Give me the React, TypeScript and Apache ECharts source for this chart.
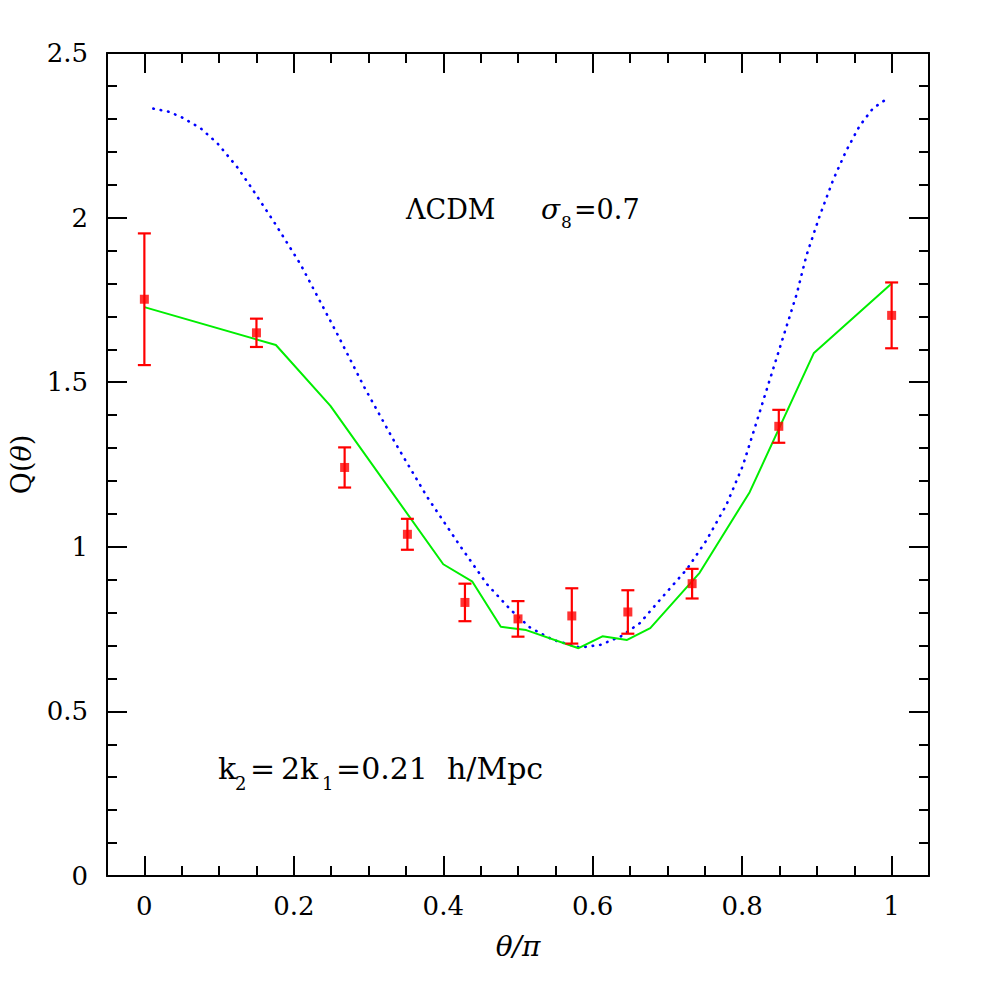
import React, { useEffect, useRef } from 'react';
import * as echarts from 'echarts';

// Measured data (red squares with error bars)
const obsTheta = [0, 0.15, 0.268, 0.352, 0.429, 0.5, 0.572, 0.647, 0.733, 0.849, 1.0];
const obsQ = [1.752, 1.65, 1.241, 1.038, 0.831, 0.781, 0.79, 0.802, 0.888, 1.366, 1.703];
const obsErr = [0.2, 0.043, 0.061, 0.047, 0.057, 0.054, 0.084, 0.066, 0.045, 0.05, 0.1];

// Blue dotted curve (perturbation theory)
const ptTheta = [0.012, 0.032, 0.05, 0.0755, 0.098, 0.124, 0.142, 0.174, 0.209, 0.258, 0.294, 0.334, 0.378, 0.423, 0.459, 0.49, 0.516, 0.547, 0.583, 0.61, 0.637, 0.663, 0.69, 0.726, 0.752, 0.779, 0.801, 0.819, 0.837, 0.855, 0.873, 0.886, 0.904, 0.922, 0.939, 0.957, 0.975, 0.997];
const ptQ = [2.331, 2.322, 2.305, 2.271, 2.225, 2.154, 2.095, 1.985, 1.858, 1.647, 1.486, 1.322, 1.153, 1.001, 0.885, 0.809, 0.755, 0.717, 0.694, 0.702, 0.727, 0.768, 0.839, 0.932, 1.019, 1.128, 1.247, 1.377, 1.508, 1.638, 1.768, 1.885, 2.007, 2.116, 2.202, 2.278, 2.332, 2.366];

// Green solid curve
const simTheta = [0, 0.176, 0.249, 0.4, 0.439, 0.477, 0.511, 0.581, 0.613, 0.646, 0.677, 0.743, 0.81, 0.896, 1.0];
const simQ = [1.728, 1.613, 1.428, 0.947, 0.894, 0.757, 0.747, 0.692, 0.728, 0.717, 0.753, 0.921, 1.166, 1.589, 1.8];

// Axis ticks
const xMajorTicks = [0, 0.2, 0.4, 0.6, 0.8, 1];
const xMinorTicks = [0.05, 0.1, 0.15, 0.25, 0.3, 0.35, 0.45, 0.5, 0.55, 0.65, 0.7, 0.75, 0.85, 0.9, 0.95];

const FONT = 'DejaVu Serif';

export default function App() {
  const ref = useRef<HTMLDivElement>(null);
  useEffect(() => {
    if (!ref.current) return;
    const chart = echarts.init(ref.current, undefined, { renderer: 'svg' });
    const axisLine = { show: true, onZero: false, lineStyle: { color: '#000', width: 2 } };
    const noLine = { show: false, onZero: false };
    const tickStyle = { color: '#000', width: 2 };
    const xBase = { type: 'value', min: -0.05, max: 1.05, splitLine: { show: false } };
    const yBase = { type: 'value', min: 0, max: 2.5, interval: 0.5, splitLine: { show: false } };
    const option: any = {
      animation: false,
      backgroundColor: '#fff',
      grid: { left: 106, right: 52, top: 53, bottom: 105, containLabel: false },
      xAxis: [
        {
          ...xBase,
          position: 'bottom',
          axisLine,
          axisTick: { show: true, inside: true, length: 20, lineStyle: tickStyle, customValues: xMajorTicks },
          axisLabel: { show: true, margin: 17, fontFamily: FONT, fontSize: 26, color: '#000', customValues: xMajorTicks },
          name: 'θ/π',
          nameLocation: 'middle',
          nameGap: 56,
          nameTextStyle: { fontFamily: FONT, fontSize: 28, fontStyle: 'italic', color: '#000' },
        },
        {
          ...xBase,
          position: 'bottom',
          axisLine: noLine,
          axisTick: { show: true, inside: true, length: 10, lineStyle: tickStyle, customValues: xMinorTicks },
          axisLabel: { show: false },
        },
        {
          ...xBase,
          position: 'top',
          axisLine,
          axisTick: { show: true, inside: true, length: 20, lineStyle: tickStyle, customValues: xMajorTicks },
          axisLabel: { show: false },
        },
        {
          ...xBase,
          position: 'top',
          axisLine: noLine,
          axisTick: { show: true, inside: true, length: 10, lineStyle: tickStyle, customValues: xMinorTicks },
          axisLabel: { show: false },
        },
      ],
      yAxis: [
        {
          ...yBase,
          position: 'left',
          axisLine,
          axisTick: { show: true, inside: true, length: 20, lineStyle: tickStyle },
          minorTick: { show: true, splitNumber: 5, length: 10, lineStyle: tickStyle },
          axisLabel: { show: true, margin: 19, fontFamily: FONT, fontSize: 26, color: '#000' },
          name: '{n|Q(}{i|θ}{n|)}',
          nameLocation: 'middle',
          nameGap: 72,
          nameRotate: 90,
          nameTextStyle: {
            rich: {
              n: { fontFamily: FONT, fontSize: 27, color: '#000' },
              i: { fontFamily: FONT, fontSize: 27, fontStyle: 'italic', color: '#000' },
            },
          },
        },
        {
          ...yBase,
          position: 'right',
          axisLine,
          axisTick: { show: true, inside: true, length: 20, lineStyle: tickStyle },
          minorTick: { show: true, splitNumber: 5, length: 10, lineStyle: tickStyle },
          axisLabel: { show: false },
        },
      ],
      series: [
        {
          type: 'line',
          name: 'PT',
          xAxisIndex: 0,
          yAxisIndex: 0,
          data: ptTheta.map((t, i) => [t, ptQ[i]]),
          showSymbol: false,
          smooth: false,
          lineStyle: { color: '#0000ff', width: 2.6, type: [0.5, 7], cap: 'round' },
          z: 2,
        },
        {
          type: 'line',
          name: 'sim',
          xAxisIndex: 0,
          yAxisIndex: 0,
          data: simTheta.map((t, i) => [t, simQ[i]]),
          showSymbol: false,
          lineStyle: { color: '#00ee00', width: 2 },
          z: 2,
        },
        {
          type: 'custom',
          name: 'err',
          xAxisIndex: 0,
          yAxisIndex: 0,
          data: obsTheta.map((t, i) => [t, obsQ[i] - obsErr[i], obsQ[i] + obsErr[i]]),
          encode: { x: 0, y: [1, 2] },
          renderItem: (params: any, api: any) => {
            const x = api.value(0);
            const p1 = api.coord([x, api.value(1)]);
            const p2 = api.coord([x, api.value(2)]);
            const w = 6.5;
            const style = { stroke: '#ff0000', lineWidth: 2.2 };
            return {
              type: 'group',
              children: [
                { type: 'line', shape: { x1: p1[0], y1: p1[1], x2: p2[0], y2: p2[1] }, style },
                { type: 'line', shape: { x1: p1[0] - w, y1: p1[1], x2: p1[0] + w, y2: p1[1] }, style },
                { type: 'line', shape: { x1: p2[0] - w, y1: p2[1], x2: p2[0] + w, y2: p2[1] }, style },
              ],
            };
          },
          z: 3,
        },
        {
          type: 'scatter',
          name: 'obs',
          xAxisIndex: 0,
          yAxisIndex: 0,
          data: obsTheta.map((t, i) => [t, obsQ[i]]),
          symbol: 'rect',
          symbolSize: 9,
          itemStyle: { color: '#ff0000' },
          z: 4,
        },
      ],
      graphic: [
        { type: 'text', x: 406, y: 209, style: { text: 'ΛCDM', fontFamily: FONT, fontSize: 27, fill: '#000', align: 'left', verticalAlign: 'middle' } },
        { type: 'text', x: 541, y: 209, style: { text: 'σ', fontFamily: FONT, fontSize: 28, fontStyle: 'italic', fill: '#000', align: 'left', verticalAlign: 'middle' } },
        { type: 'text', x: 561, y: 222, style: { text: '8', fontFamily: FONT, fontSize: 17, fill: '#000', align: 'left', verticalAlign: 'middle' } },
        { type: 'text', x: 574, y: 209, style: { text: '=0.7', fontFamily: FONT, fontSize: 27, fill: '#000', align: 'left', verticalAlign: 'middle' } },

        { type: 'text', x: 218, y: 768, style: { text: 'k', fontFamily: FONT, fontSize: 30, fill: '#000', align: 'left', verticalAlign: 'middle' } },
        { type: 'text', x: 235, y: 783, style: { text: '2', fontFamily: FONT, fontSize: 18, fill: '#000', align: 'left', verticalAlign: 'middle' } },
        { type: 'text', x: 250, y: 768, style: { text: '=', fontFamily: FONT, fontSize: 30, fill: '#000', align: 'left', verticalAlign: 'middle' } },
        { type: 'text', x: 281, y: 768, style: { text: '2k', fontFamily: FONT, fontSize: 30, fill: '#000', align: 'left', verticalAlign: 'middle' } },
        { type: 'text', x: 322, y: 783, style: { text: '1', fontFamily: FONT, fontSize: 18, fill: '#000', align: 'left', verticalAlign: 'middle' } },
        { type: 'text', x: 336, y: 768, style: { text: '=0.21  h/Mpc', fontFamily: FONT, fontSize: 30, fill: '#000', align: 'left', verticalAlign: 'middle' } },
      ],
    };
    chart.setOption(option);
    return () => chart.dispose();
  }, []);
  return <div ref={ref} style={{ position: 'absolute', left: 0, top: 0, width: 981, height: 981 }} />;
}
